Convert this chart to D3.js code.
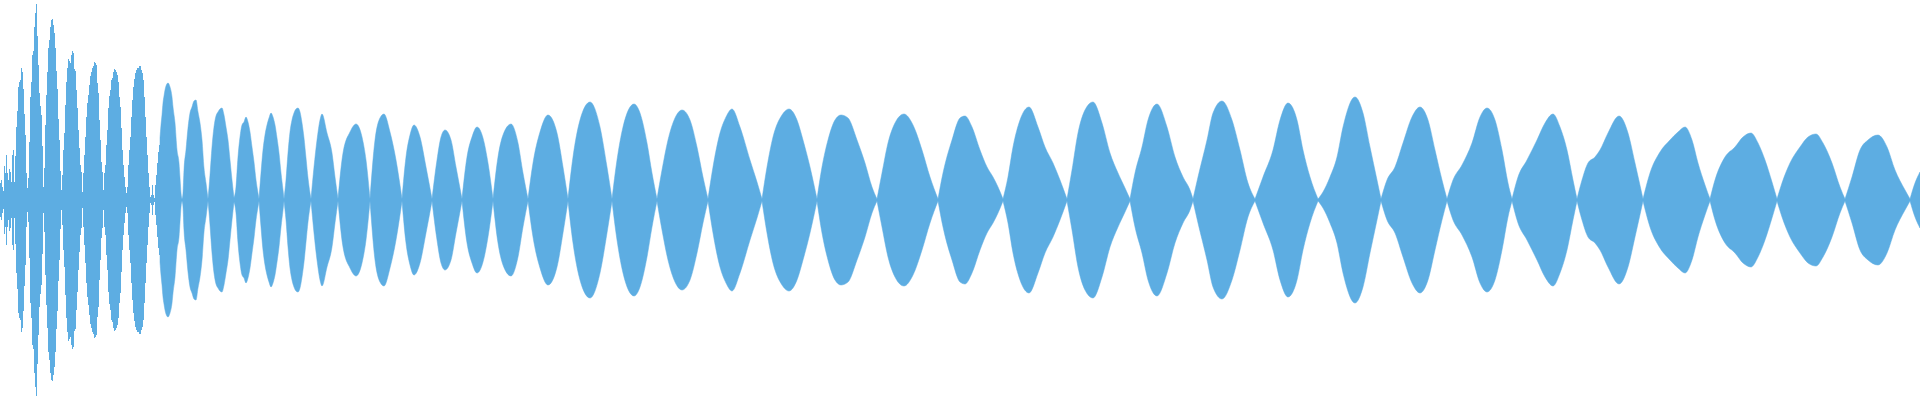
<!DOCTYPE html>
<html>
<head>
<meta charset="utf-8">
<script src="https://cdn.jsdelivr.net/npm/d3@7"></script>
<style>
  html, body { margin: 0; padding: 0; background: #fff; }
  svg { display: block; }
</style>
</head>
<body>
<div id="chart"></div>
<script>
// attack part: one peak level per sample column (samples 0..159)
var attackLevels = [17,20,13,9,34,27,45,27,20,31,28,18,45,50,18,44,73,89,113,118,
  120,132,128,111,86,65,27,12,22,58,103,118,145,149,173,187,196,164,135,107,
  94,85,54,13,32,75,105,128,152,160,173,180,181,175,167,152,129,111,81,60,
  29,10,25,50,67,95,118,132,141,139,137,145,149,147,131,129,110,92,70,52,
  35,28,8,27,45,63,83,97,105,115,124,128,132,134,138,137,135,117,107,80,
  60,38,28,10,27,35,55,70,92,104,110,120,122,128,131,130,128,125,118,103,
  93,72,50,35,23,13,7,13,35,50,63,83,100,113,121,127,130,132,132,134,
  134,130,127,120,103,83,63,45,27,13,3,5,15,5,2,15,25,37,48,55];

// decay part: envelope read at selected sample positions
var envSample = [160,161,162,163,164,165,166,168,170,172,173,175,177,179,180,181,182,
  183,184,186,188,190,192,194,196,198,200,202,204,206,208,
  209,210,212,214,216,218,220,222,224,226,228,230,232,234,
  236,238,240,242,244,246,248,250,252,254,256,258,259,
  261,263,265,267,269,271,273,275,277,279,281,283,284,
  286,288,290,292,294,296,298,300,302,304,306,308,310,311,
  314,317,320,322,327,332,335,338,
  343,350,356,362,366,370,
  375,380,384,390,396,402,
  406,410,414,420,426,432,
  437,441,445,451,456,462,
  467,472,477,483,488,493,
  498,503,511,518,523,528,
  533,540,548,557,563,568,
  573,580,590,600,607,612,
  617,623,634,640,647,652,657,
  662,668,675,682,690,697,703,708,
  713,720,726,732,740,750,757,762,
  767,773,782,789,797,803,810,817,
  822,828,835,841,848,857,865,872,877,
  882,888,895,904,913,922,930,938,
  943,952,960,965,972,980,987,993,998,1003,
  1008,1013,1020,1029,1038,1045,1053,1060,1067,
  1072,1078,1085,1093,1102,1110,1118,1125,1130,
  1135,1142,1148,1157,1167,1175,1183,1190,1193,
  1198,1207,1213,1222,1232,1240,1248,1255,
  1263,1273,1280,1288,1297,1303,1310,1318,
  1323,1330,1337,1343,1355,1363,1370,1377,1381,
  1387,1395,1403,1412,1420,1428,1435,1442,1447,
  1453,1462,1472,1480,1487,1495,1502,1508,1512,
  1518,1527,1537,1545,1553,1560,1567,1573,1577,
  1582,1588,1595,1600,1608,1619,1628,1635,1643,
  1650,1660,1670,1678,1685,1692,1698,1705,1710,
  1715,1725,1735,1743,1751,1758,1765,1772,1777,
  1782,1790,1800,1808,1816,1823,1832,1840,1845,
  1852,1860,1868,1878,1887,1895,1905,1910,
  1915,1920];

var envLevel = [62,75,85,97,104,110,114,117,113,103,93,77,50,37,22,7,1,
  7,30,50,72,87,93,99,100,88,77,60,32,17,1,
  12,25,53,73,84,88,91,92,85,73,60,40,20,2,
  13,43,63,75,78,83,78,68,53,38,20,7,1,
  27,50,65,75,82,87,83,75,62,47,27,10,1,
  20,47,68,80,87,91,92,88,77,62,42,22,7,1,
  33,60,80,86,67,47,23,1,
  47,68,76,63,40,1,
  60,82,86,68,40,1,
  43,65,75,63,33,1,
  40,63,70,60,33,1,
  43,63,73,62,37,1,
  43,65,76,57,27,1,
  37,68,85,67,33,1,
  43,80,98,73,33,1,
  40,73,96,87,57,27,1,
  30,60,82,90,80,53,23,1,
  33,67,83,91,73,40,18,1,
  33,63,85,91,80,60,33,1,
  33,60,80,85,82,60,37,13,1,
  27,57,77,86,75,50,23,1,
  27,60,82,84,73,50,33,23,13,1,
  23,53,80,93,73,53,37,20,1,
  30,67,90,98,77,47,27,12,1,
  27,53,80,96,73,43,23,10,1,
  23,60,87,99,80,50,17,1,
  23,50,80,97,80,50,23,1,
  8,23,43,73,103,87,53,20,1,
  20,33,57,83,93,80,50,20,1,
  20,35,57,83,92,80,50,17,1,
  23,40,60,77,86,73,50,20,1,
  20,37,43,50,67,84,67,37,1,
  27,48,60,68,73,60,37,15,1,
  20,43,53,63,67,57,40,18,1,
  17,37,53,63,66,57,37,13,1,
  23,50,60,65,53,30,10,1,
  17,28];

var width = 1920, height = 400;
var color = "#5dade2";

var svg = d3.select("#chart").append("svg")
  .attr("width", width)
  .attr("height", height);

var x = d3.scaleLinear().domain([0, 1920]).range([0, width]);
var y = d3.scaleLinear().domain([-200, 200]).range([height, 0]);

// attack columns
svg.append("g")
  .selectAll("rect")
  .data(attackLevels)
  .enter()
  .append("rect")
  .attr("fill", color)
  .attr("shape-rendering", "crispEdges")
  .attr("x", function(d, i) { return x(i); })
  .attr("width", function(d, i) { return x(i + 1) - x(i); })
  .attr("y", function(d) { return y(d); })
  .attr("height", function(d) { return y(-d) - y(d); });

// decay envelope, split into lobes at the nodes so they stay sharp
var lobes = [], cur = [];
envSample.forEach(function(s, i) {
  var p = { s: s, v: envLevel[i] };
  cur.push(p);
  if (p.v <= 2 && cur.length > 1) {
    lobes.push(cur);
    cur = [p];
  }
});
if (cur.length > 1) lobes.push(cur);

var area = d3.area()
  .x(function(d) { return x(d.s); })
  .y0(function(d) { return y(-d.v); })
  .y1(function(d) { return y(d.v); })
  .curve(d3.curveMonotoneX);

svg.append("g")
  .selectAll("path")
  .data(lobes)
  .enter()
  .append("path")
  .attr("fill", color)
  .attr("stroke", color)
  .attr("stroke-width", 0.5)
  .attr("d", area);
</script>
</body>
</html>
